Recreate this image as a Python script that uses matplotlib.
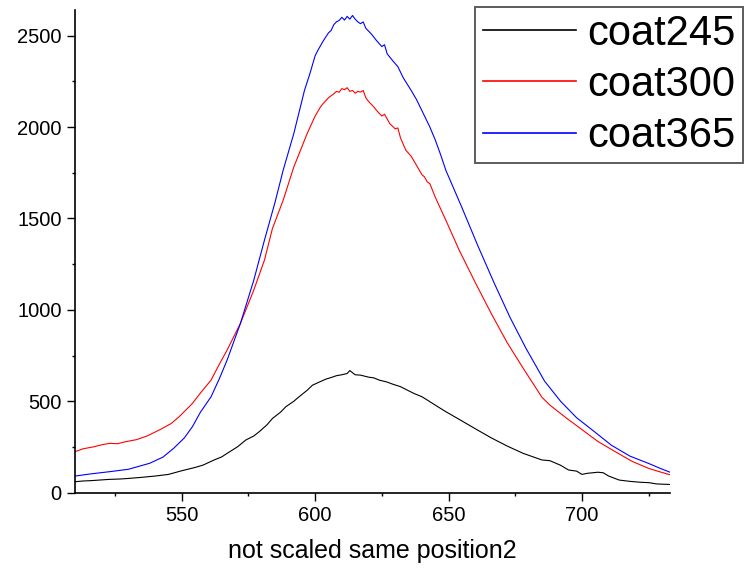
import matplotlib
matplotlib.use("Agg")
import matplotlib.pyplot as plt
from matplotlib.ticker import MultipleLocator

plt.rcParams['font.family'] = ['Liberation Sans', 'DejaVu Sans']

labels = ["coat245", "coat300", "coat365"]
colors = ["#000000", "#ff0000", "#0000ff"]

x245 = [510, 513, 516, 520, 523, 527, 530, 535, 540, 545, 550, 555, 558, 562, 565, 567, 571, 574,
        577, 579, 582, 584, 587, 589, 592, 594, 597, 599, 602, 604, 606, 608, 610, 612, 613, 615,
        617, 620, 622, 624, 627, 629, 632, 634, 637, 640, 642, 646, 649, 654, 660, 666, 672, 678,
        685, 688, 692, 695, 698, 700, 702, 704, 706, 708, 710, 714, 718, 722, 725, 728, 733]
y245 = [60, 64, 66, 70, 73, 75, 78, 84, 91, 100, 120, 138, 151, 178, 196, 215, 252, 288,
        310, 333, 372, 406, 440, 470, 500, 525, 560, 588, 608, 621, 630, 640, 645, 652, 668, 645,
        643, 632, 628, 616, 605, 594, 580, 565, 543, 525, 507, 470, 443, 401, 350, 300, 255, 215,
        179, 175, 150, 124, 118, 100, 106, 109, 112, 109, 91, 69, 62, 57, 55, 48, 45]

x300 = [510, 513, 517, 520, 523, 526, 529, 533, 537, 542, 546, 549, 554, 557, 561, 564, 567, 572,
        577, 581, 584, 588, 592, 597, 600, 602, 603, 605, 607, 608, 609, 610, 611, 612, 613, 614,
        615, 616, 617, 618, 619, 620, 622, 623, 625, 626, 628, 630, 631, 632, 634, 636, 638, 640,
        641, 642, 643, 645, 649, 654, 660, 666, 672, 678, 685, 688, 694, 700, 706, 713, 719, 725,
        729, 733]
y300 = [224, 240, 251, 262, 270, 268, 279, 290, 310, 346, 378, 415, 488, 545, 616, 700, 780, 926,
        1108, 1272, 1445, 1599, 1781, 1964, 2060, 2110, 2128, 2160, 2182, 2195, 2190, 2210, 2204,
        2215, 2195, 2200, 2185, 2195, 2191, 2200, 2160, 2140, 2110, 2091, 2060, 2070, 2018, 1990,
        1995, 1940, 1873, 1840, 1790, 1740, 1727, 1700, 1690, 1617, 1490, 1326, 1150, 980, 820,
        680, 522, 479, 410, 345, 280, 220, 170, 133, 115, 98]

x365 = [510, 516, 523, 530, 538, 543, 547, 551, 554, 557, 561, 564, 567, 572, 577, 581, 585, 588,
        592, 596, 598, 600, 601, 603, 605, 606, 607, 608, 609, 610, 611, 612, 613, 614, 615, 616,
        617, 618, 619, 621, 623, 625, 626, 627, 629, 631, 633, 636, 638, 640, 643, 645, 647, 649,
        655, 661, 667, 673, 679, 686, 692, 698, 705, 711, 718, 725, 729, 733]
y365 = [91, 103, 115, 128, 161, 195, 243, 300, 361, 440, 525, 620, 725, 926, 1162, 1381, 1590,
        1763, 1964, 2200, 2290, 2390, 2419, 2470, 2515, 2528, 2560, 2575, 2583, 2600, 2585, 2605,
        2590, 2610, 2590, 2575, 2565, 2575, 2540, 2510, 2473, 2440, 2450, 2400, 2364, 2330, 2270,
        2200, 2150, 2090, 2000, 1930, 1850, 1763, 1560, 1350, 1150, 960, 790, 610, 500, 410, 330,
        260, 200, 160, 135, 112]

xlabel = "not scaled same position2"

W, H = 744, 569
fig = plt.figure(figsize=(W / 100, H / 100), dpi=100)
ax = fig.add_axes([75 / W, (H - 492.7) / H, (670 - 75) / W, (492.7 - 10) / H])

for xs, ys, c, lab in zip([x245, x300, x365], [y245, y300, y365], colors, labels):
    ax.plot(xs, ys, color=c, lw=0.8, label=lab)

ax.set_xlim(510, 733)
ax.set_ylim(0, 2640)
ax.xaxis.set_major_locator(MultipleLocator(50))
ax.xaxis.set_minor_locator(MultipleLocator(25))
ax.yaxis.set_major_locator(MultipleLocator(500))
ax.yaxis.set_minor_locator(MultipleLocator(250))
for s in ['top', 'right']:
    ax.spines[s].set_visible(False)
for s in ['left', 'bottom']:
    ax.spines[s].set_linewidth(1.2)
ax.tick_params(which='major', direction='out', length=5.5, width=1.0, labelsize=14.5,
               pad=4, colors='black')
ax.tick_params(which='minor', direction='out', length=2.5, width=1.0)
ax.set_xlabel(xlabel, fontsize=18, labelpad=10)

leg = ax.legend(loc='upper right', bbox_to_anchor=(743 / W, 1 - 6.7 / H),
                bbox_transform=fig.transFigure, fontsize=30, frameon=True, fancybox=False,
                borderaxespad=0, handlelength=2.25, handletextpad=0.27, labelspacing=0.27,
                borderpad=0.17)
leg.get_frame().set_edgecolor('#333333')
leg.get_frame().set_linewidth(1.4)
for l in leg.get_lines():
    l.set_linewidth(1.2)

fig.savefig("out.png", dpi=100)
